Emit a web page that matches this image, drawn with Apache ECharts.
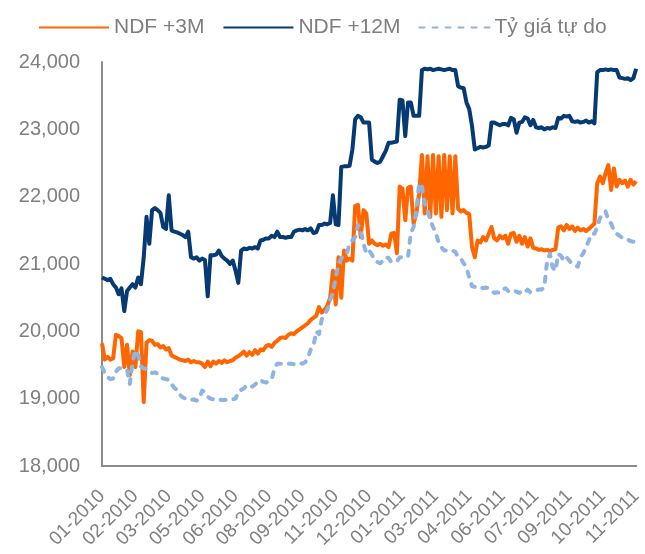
<!DOCTYPE html>
<html>
<head>
<meta charset="utf-8">
<script src="https://cdn.jsdelivr.net/npm/echarts@6/dist/echarts.min.js"></script>
<style>
  html, body { margin: 0; padding: 0; background: #ffffff; }
  #chart { width: 645px; height: 554px; }
</style>
</head>
<body>
<div id="chart"></div>
<script>
// Tick labels shown on the x axis (one every STEP observations)
var tickLabels = ['01-2010','02-2010','03-2010','05-2010','06-2010','08-2010','09-2010','11-2010','12-2010',
  '01-2011','03-2011','04-2011','06-2011','07-2011','09-2011','10-2011','11-2011'];
var STEP = 12;

var seriesNames = ['NDF +3M', 'NDF +12M', 'Tỷ giá tự do'];

// NDF +3M
var ndf3m = [
19820,19580,19620,19580,19600,19950,19930,19900,19470,19800,19350,19700,19470,20000,19990,18950,
19830,19870,19860,19800,19810,19760,19780,19730,19750,19640,19620,19600,19580,19570,19560,19580,
19540,19560,19540,19540,19520,19470,19550,19480,19550,19520,19560,19530,19570,19540,19560,19570,
19610,19630,19660,19700,19640,19690,19650,19720,19670,19730,19720,19780,19800,19770,19830,19860,
19900,19910,19900,19950,19970,19960,20000,20030,20060,20090,20120,20170,20200,20230,20360,20280,
20320,20380,20500,20900,20400,21100,20500,21200,21050,21080,21050,21860,21880,21400,21800,21750,
21300,21350,21300,21280,21300,21270,21290,21250,21450,21460,21160,22150,22120,21650,22130,22150,
21600,21750,22050,22620,21750,22600,21700,22620,21750,22600,21700,22620,21800,22600,21750,22600,
21820,21780,21800,21760,21740,21250,21100,21350,21320,21400,21350,21450,21550,21380,21350,21420,
21380,21420,21300,21450,21460,21330,21420,21300,21400,21260,21380,21240,21230,21210,21220,21200,
21210,21190,21210,21220,21540,21560,21500,21580,21520,21560,21490,21540,21500,21520,21490,21520,
21560,21600,22200,22300,22200,22350,22470,22100,22420,22150,22250,22200,22240,22150,22250,22180,
22230
];

// NDF +12M
var ndf12m = [
20800,20780,20760,20780,20700,20650,20550,20640,20300,20600,20650,20700,20650,20800,20700,21100,
21700,21300,21800,21830,21800,21760,21550,21520,22020,21500,21480,21470,21450,21430,21400,21480,
21100,21080,21100,21050,21080,21060,20520,21130,21130,21140,21200,21120,21080,21050,21000,21050,
20900,20720,21200,21230,21220,21240,21230,21250,21230,21350,21360,21380,21380,21420,21400,21480,
21400,21400,21390,21400,21400,21480,21500,21510,21500,21520,21500,21530,21460,21470,21580,21580,
21600,21590,21610,22020,21590,21580,22440,22450,22450,22460,22700,23150,23200,23180,23100,23100,
23100,22550,22520,22500,22520,22600,22680,22800,22800,22810,22820,23440,23430,22900,23400,23400,
23200,23200,23200,23880,23900,23890,23900,23880,23890,23900,23890,23880,23890,23900,23880,23880,
23640,23620,23610,23400,23300,23050,22700,22720,22740,22730,22740,22760,23100,23100,23080,23060,
23080,23080,23060,23170,23150,22950,23100,23110,23180,23160,23060,23140,23030,23020,23030,23000,
23020,23010,23030,23020,23170,23160,23200,23190,23200,23120,23110,23120,23100,23110,23130,23100,
23120,23090,23850,23880,23880,23890,23880,23890,23880,23880,23770,23760,23750,23760,23730,23760,
23900
];

// Tỷ giá tự do
var freeRate = [
19470,19380,19320,19290,19300,19400,19450,19450,19440,19430,19220,19550,19720,19650,19480,19450,
19440,19420,19380,19390,19370,19320,19300,19290,19280,19220,19160,19130,19060,19020,19000,18990,
18980,18990,18970,19000,19120,19100,19030,19000,18990,19000,18990,18980,18980,18990,18990,18990,
19000,19100,19130,19150,19200,19200,19180,19210,19250,19280,19250,19240,19270,19290,19450,19520,
19520,19520,19510,19520,19520,19510,19520,19530,19520,19540,19600,19730,19780,20000,19960,20180,
20250,20320,20470,20570,20800,21000,21080,21150,21160,21300,21350,21400,21580,21500,21300,21160,
21200,21140,21060,21030,21010,21050,21100,21090,21030,21030,21040,21100,21100,21100,21110,21460,
21550,21800,22200,22150,21900,21800,21650,21550,21460,21320,21250,21200,21200,21190,21200,21180,
21100,21080,21010,20950,20800,20670,20660,20650,20660,20640,20650,20640,20600,20570,20580,20570,
20620,20640,20600,20580,20600,20590,20570,20600,20580,20620,20580,20600,20610,20620,20620,20660,
21050,21150,20950,20900,21150,21120,21050,21100,21050,21000,20980,20960,21100,21160,21250,21350,
21450,21450,21550,21680,21750,21780,21650,21600,21500,21450,21420,21390,21380,21360,21340,21330,
21320
];

var categories = ndf3m.map(function (_, i) { return String(i); });

var FONT = '"Liberation Sans", Arial, sans-serif';
var GRAY = '#7f7f7f';

var chart = echarts.init(document.getElementById('chart'), null, { renderer: 'canvas' });
chart.setOption({
  animation: false,
  backgroundColor: '#ffffff',
  legend: {
    data: seriesNames,
    top: 12,
    left: 33,
    itemWidth: 70,
    itemHeight: 14,
    itemGap: 18,
    itemStyle: { opacity: 0 },
    textStyle: { color: GRAY, fontSize: 21, fontFamily: FONT }
  },
  grid: { left: 102, right: 8, top: 62, bottom: 88, containLabel: false },
  xAxis: {
    type: 'category',
    data: categories,
    boundaryGap: false,
    axisLine: { lineStyle: { color: '#8c8c8c', width: 2 } },
    axisTick: { show: false },
    splitLine: { show: false },
    axisLabel: {
      interval: STEP - 1,
      rotate: 45,
      margin: 27,
      color: GRAY,
      fontSize: 19,
      fontFamily: FONT,
      formatter: function (v, idx) {
        return idx % STEP === 0 ? tickLabels[idx / STEP] : '';
      }
    }
  },
  yAxis: {
    type: 'value',
    min: 18000,
    max: 24000,
    interval: 1000,
    axisLine: { show: true, lineStyle: { color: '#8c8c8c', width: 2 } },
    axisTick: { show: false },
    splitLine: { show: false },
    axisLabel: {
      margin: 22,
      color: GRAY,
      fontSize: 20,
      fontFamily: FONT,
      formatter: function (v) { return v.toLocaleString('en-US'); }
    }
  },
  series: [
    {
      name: seriesNames[0], type: 'line', data: ndf3m, symbol: 'none',
      lineStyle: { color: '#ff6600', width: 4, join: 'round' },
      itemStyle: { color: '#ff6600' }
    },
    {
      name: seriesNames[1], type: 'line', data: ndf12m, symbol: 'none',
      lineStyle: { color: '#053a72', width: 4, join: 'round' },
      itemStyle: { color: '#053a72' }
    },
    {
      name: seriesNames[2], type: 'line', data: freeRate, symbol: 'none',
      lineStyle: { color: '#8db4e2', width: 4, type: [5, 8], cap: 'round', join: 'round' },
      itemStyle: { color: '#8db4e2' }
    }
  ]
});
</script>
</body>
</html>
